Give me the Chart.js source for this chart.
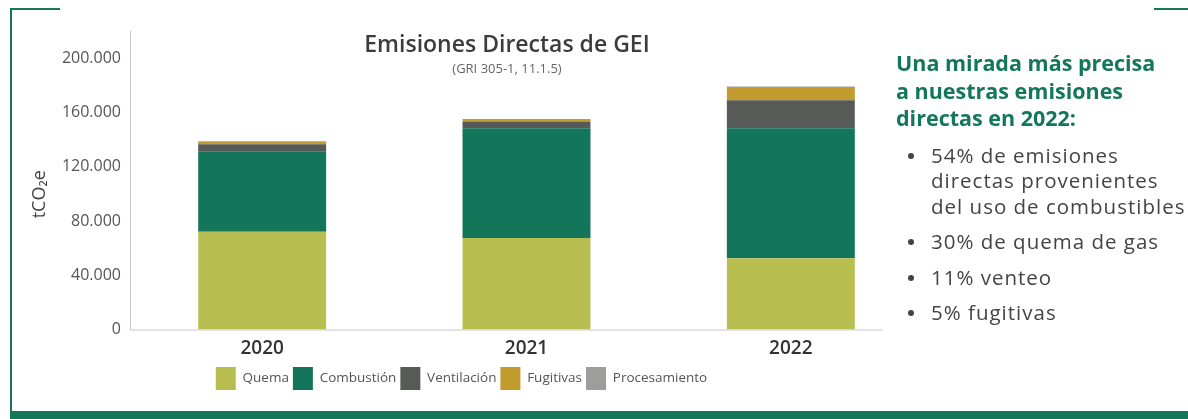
<!DOCTYPE html>
<html lang="es">
<head>
<meta charset="utf-8">
<script src="https://cdn.jsdelivr.net/npm/chart.js@4.4.1/dist/chart.umd.min.js"></script>
<style>
  html, body { margin: 0; padding: 0; background: #fff; }
  body { width: 1188px; height: 419px; position: relative; overflow: hidden; font-family: "Open Sans", sans-serif; }
  .marco-izq { position: absolute; left: 10px; top: 8px; width: 2px; height: 404px; background: #15775a; }
  .marco-sup-izq { position: absolute; left: 10px; top: 8px; width: 50px; height: 2px; background: #15775a; }
  .marco-sup-der { position: absolute; left: 1154px; top: 8px; width: 34px; height: 2px; background: #15775a; }
  .franja { position: absolute; left: 10px; top: 411px; width: 1178px; height: 8px; background: #15775a; }
  #grafico { position: absolute; left: 0; top: 0; width: 923px; height: 400px; }
  .titulo { position: absolute; left: 257px; width: 500px; top: 27px; text-align: center; font-size: 23px; font-weight: 600; color: #3c3c3c; }
  .subtitulo { position: absolute; left: 407px; width: 200px; top: 59px; text-align: center; font-size: 13px; color: #666; }
  .panel { position: absolute; left: 896px; top: 49px; width: 292px; }
  .panel h3 { margin: 0; font-size: 21.5px; line-height: 27.5px; font-weight: 700; color: #13775a; }
  .panel ul { list-style: none; margin: 11px 0 0 0; padding: 0; }
  .panel li { position: relative; padding-left: 35px; font-size: 20.5px; line-height: 25.5px; color: #444; letter-spacing: 1px; margin-bottom: 10px; white-space: nowrap; }
  .panel li::before { content: ""; position: absolute; left: 12px; top: 10px; width: 6px; height: 6px; border-radius: 50%; background: #444; }
</style>
</head>
<body>
<div class="marco-izq"></div>
<div class="marco-sup-izq"></div>
<div class="marco-sup-der"></div>
<div class="franja"></div>

<canvas id="grafico" width="923" height="400"></canvas>
<div class="titulo">Emisiones Directas de GEI</div>
<div class="subtitulo">(GRI 305-1, 11.1.5)</div>

<div class="panel">
  <h3>Una mirada más precisa<br>a nuestras emisiones<br>directas en 2022:</h3>
  <ul>
    <li>54% de emisiones<br>directas provenientes<br>del uso de combustibles</li>
    <li>30% de quema de gas</li>
    <li>11% venteo</li>
    <li>5% fugitivas</li>
  </ul>
</div>

<script>
// Datos (tCO2e)
const anios = ['2020', '2021', '2022'];
const quema = [72000, 67400, 52600];
const combustion = [59300, 81000, 95800];
const ventilacion = [5200, 4900, 20500];
const fugitivas = [2200, 1900, 9800];
const procesamiento = [0, 0, 400];
const ticksY = [0, 40000, 80000, 120000, 160000, 200000];

const colores = ['#b8bf50', '#13765a', '#585a58', '#c29c2e', '#9d9d9b'];
const nombres = ['Quema', 'Combustión', 'Ventilación', 'Fugitivas', 'Procesamiento'];
const series = [quema, combustion, ventilacion, fugitivas, procesamiento];

function formato(v) {
  return String(v).replace(/\B(?=(\d{3})+(?!\d))/g, '.');
}

// linea base del eje x, algo mas corta que el area del grafico
const lineaBase = {
  id: 'lineaBase',
  beforeDatasetsDraw(chart) {
    const { ctx, chartArea } = chart;
    ctx.save();
    ctx.strokeStyle = '#c8c8c8';
    ctx.lineWidth = 1;
    ctx.beginPath();
    ctx.moveTo(chartArea.left, chartArea.bottom + 0.5);
    ctx.lineTo(chartArea.right - 40, chartArea.bottom + 0.5);
    ctx.stroke();
    ctx.restore();
  }
};

const ctx = document.getElementById('grafico').getContext('2d');
const chart = new Chart(ctx, {
  type: 'bar',
  data: {
    labels: anios,
    datasets: series.map((d, i) => ({
      label: nombres[i],
      data: d,
      backgroundColor: colores[i],
      borderWidth: 0,
      barPercentage: 0.484,
      categoryPercentage: 1
    }))
  },
  options: {
    responsive: false,
    animation: false,
    layout: { padding: { top: 31, left: 0, right: 0, bottom: 0 } },
    plugins: {
      tooltip: { enabled: false },
      legend: {
        position: 'bottom',
        labels: {
          boxWidth: 20,
          boxHeight: 23,
          padding: 4,
          color: '#555',
          font: { family: 'Open Sans', size: 13.5 }
        }
      }
    },
    scales: {
      x: {
        stacked: true,
        grid: { display: false },
        border: { display: false },
        afterFit: (s) => { s.height = 33.5; },
        ticks: {
          padding: 0,
          color: '#333',
          font: { family: 'Open Sans', size: 19, weight: '600' }
        }
      },
      y: {
        stacked: true,
        min: 0,
        max: 220000,
        grid: { display: false },
        border: { color: '#c8c8c8', width: 1 },
        afterBuildTicks: (s) => { s.ticks = ticksY.map(v => ({ value: v })); },
        afterFit: (s) => { s.width = 130; },
        ticks: {
          padding: 1,
          color: '#555',
          font: { family: 'Open Sans', size: 16 },
          callback: (v) => formato(v)
        },
        title: {
          display: true,
          text: 'tCO₂e\u00a0\u00a0\u00a0\u00a0\u00a0\u00a0',
          color: '#444',
          padding: { top: 29, bottom: 0 },
          font: { family: 'Open Sans', size: 18 }
        }
      }
    }
  },
  plugins: [lineaBase]
});
</script>
</body>
</html>
